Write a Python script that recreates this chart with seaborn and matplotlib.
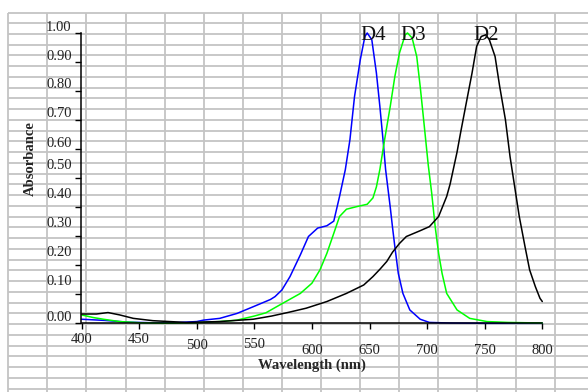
import numpy
import pandas
import seaborn
import matplotlib
matplotlib.use('Agg')
import matplotlib.pyplot as plt
from matplotlib.transforms import ScaledTranslation

seaborn.set_style('white')
plt.rcParams['font.family'] = ['Liberation Serif', 'DejaVu Serif']

# absorbance spectra
d4_nm = [400, 420, 440, 460, 480, 500, 506, 520, 535, 549, 564, 568, 574, 581,
         590, 597, 605, 613, 619, 624, 629, 633, 637, 642, 646, 648, 652, 656,
         659, 662, 664, 668, 670, 672, 675, 679, 685, 694, 702, 720, 750, 800]
d4_abs = [0.014, 0.010, 0.004, 0.002, 0.002, 0.006, 0.011, 0.017, 0.034, 0.057,
          0.082, 0.092, 0.115, 0.161, 0.236, 0.299, 0.328, 0.336, 0.352, 0.437,
          0.529, 0.632, 0.781, 0.908, 0.988, 1.000, 0.977, 0.862, 0.747, 0.621,
          0.529, 0.400, 0.330, 0.264, 0.172, 0.103, 0.046, 0.014, 0.003, 0.001,
          0.000, 0.000]

d3_nm = [400, 410, 419, 433, 450, 470, 500, 520, 535, 550, 560, 572, 590, 600,
         607, 613, 619, 624, 630, 639, 648, 653, 656, 659, 663, 668, 672, 676,
         681, 683, 687, 691, 694, 697, 701, 704, 707, 710, 713, 717, 726, 737,
         752, 770, 800]
d3_abs = [0.029, 0.020, 0.014, 0.006, 0.002, 0.000, 0.002, 0.006, 0.011, 0.025,
          0.036, 0.063, 0.103, 0.138, 0.184, 0.241, 0.310, 0.368, 0.393, 0.402,
          0.410, 0.432, 0.470, 0.530, 0.630, 0.747, 0.850, 0.931, 0.994, 1.000,
          0.983, 0.919, 0.816, 0.701, 0.545, 0.448, 0.333, 0.241, 0.172, 0.103,
          0.046, 0.017, 0.006, 0.003, 0.001]

d2_nm = [400, 413, 423, 433, 445, 462, 491, 520, 538, 549, 565, 580, 595, 613,
         630, 645, 653, 659, 665, 670, 676, 682, 694, 702, 710, 717, 720, 723,
         726, 729, 734, 739, 743, 747, 751, 754, 759, 763, 768, 772, 776, 780,
         785, 789, 794, 798, 800]
d2_abs = [0.032, 0.032, 0.037, 0.029, 0.017, 0.009, 0.003, 0.006, 0.011, 0.014,
          0.025, 0.038, 0.052, 0.075, 0.103, 0.132, 0.161, 0.186, 0.213, 0.245,
          0.275, 0.299, 0.319, 0.333, 0.368, 0.437, 0.480, 0.535, 0.590, 0.655,
          0.759, 0.862, 0.954, 0.988, 0.994, 0.977, 0.919, 0.816, 0.701, 0.574,
          0.471, 0.368, 0.264, 0.184, 0.126, 0.086, 0.075]

dyes = ['D4', 'D3', 'D2']
colours = ['#0000ff', '#00ff00', '#000000']
label_at = {'D4': (642.5, 0.976), 'D3': (676.4, 0.976), 'D2': (740.0, 0.976)}

x_ticks = [400, 450, 500, 550, 600, 650, 700, 750, 800]
y_ticks = [0.0, 0.1, 0.2, 0.3, 0.4, 0.5, 0.6, 0.7, 0.8, 0.9, 1.0]

spectra = pandas.concat([
    pandas.DataFrame({'Wavelength (nm)': d4_nm, 'Absorbance': d4_abs, 'dye': 'D4'}),
    pandas.DataFrame({'Wavelength (nm)': d3_nm, 'Absorbance': d3_abs, 'dye': 'D3'}),
    pandas.DataFrame({'Wavelength (nm)': d2_nm, 'Absorbance': d2_abs, 'dye': 'D2'}),
])

fig = plt.figure(figsize=(5.88, 3.92), dpi=100)
fig.patch.set_facecolor('white')

# spreadsheet cells behind the chart
bg = fig.add_axes([0, 0, 1, 1])
bg.set_xlim(0, 588)
bg.set_ylim(392, 0)
bg.axis('off')
bg.vlines(8.3 + 39.08 * numpy.arange(15), 12.5, 392, color='#c4c4c4', lw=1.3)
bg.hlines(12.5 + 10.743 * numpy.arange(36), 8.3, 588, color='#c4c4c4', lw=1.3)

ax = fig.add_axes([81.5 / 588, 1 - 323.3 / 392, 460.8 / 588, 290.3 / 392])
ax.set_facecolor('none')
seaborn.lineplot(data=spectra, x='Wavelength (nm)', y='Absorbance', hue='dye',
                 hue_order=dyes, palette=colours, linewidth=1.1, legend=False,
                 ax=ax, clip_on=False)

for d in dyes:
    ax.text(label_at[d][0], label_at[d][1], d, fontsize=15, ha='left',
            va='baseline', color='#111111')

ax.set_xlim(400, 800)
ax.set_ylim(0, 1.0)
ax.set_xticks(x_ticks)
ax.set_yticks(y_ticks)
ax.set_xticklabels([str(v) for v in x_ticks])
ax.set_yticklabels(['%.2f' % v for v in y_ticks])
ax.tick_params(axis='both', direction='out', length=4, width=1, color='black',
               labelsize=10.5, labelcolor='#222222', pad=3,
               bottom=True, left=True)
seaborn.despine(ax=ax, top=True, right=True)
for s in ['left', 'bottom']:
    ax.spines[s].set_color('black')
    ax.spines[s].set_linewidth(1.1)

# the tick labels in the original sit a little off their ticks
y_shift = [7, 14, 14, 14, 14, 14, 7, 8, 8, 7, 7]
for lab, dy in zip(ax.get_yticklabels(), y_shift):
    lab.set_transform(lab.get_transform() + ScaledTranslation(0, dy / 100, fig.dpi_scale_trans))
x_shift = [0, 0, 6, 5, 11, 11, 11, 11, 11]
for lab, dy in zip(ax.get_xticklabels(), x_shift):
    lab.set_transform(lab.get_transform() + ScaledTranslation(0, -dy / 100, fig.dpi_scale_trans))

ax.set_xlabel('Wavelength (nm)', fontsize=10.5, fontweight='bold')
ax.set_ylabel('Absorbance', fontsize=10.5, fontweight='bold')
ax.xaxis.set_label_coords(0.499, -0.123)
ax.yaxis.set_label_coords(-0.0966, 0.566)

fig.savefig('out.png', dpi=100)
